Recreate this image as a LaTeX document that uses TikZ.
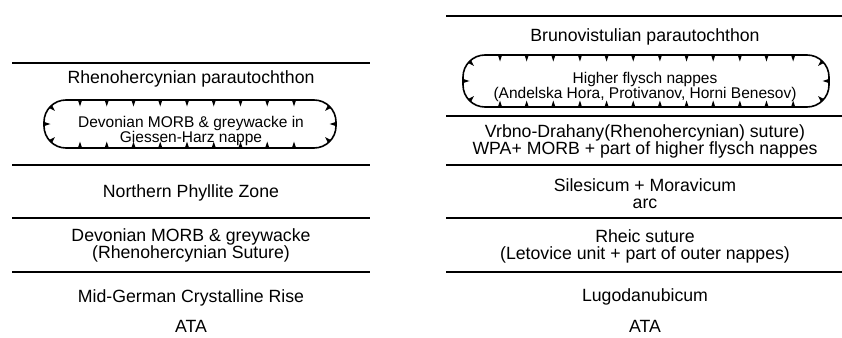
\documentclass[tikz,border=0pt]{standalone}
\usepackage{fontspec}
\setmainfont{Liberation Sans}
\begin{document}
\begin{tikzpicture}[x=1pt,y=-1pt,
  sep/.style={line width=2.6pt},
  nappebox/.style={line width=1.6pt, rounded corners=22pt},
  lbl/.style={font=\fontsize{17.7}{15.7}\selectfont, anchor=base, inner sep=0pt},
  lbl2/.style={font=\fontsize{17.7}{17}\selectfont, align=center, anchor=north, inner sep=0pt},
  blbl2/.style={font=\fontsize{15.5}{13.8}\selectfont, align=center, anchor=north, inner sep=0pt},
  tooth/.style={fill=black}
]
\useasboundingbox (0,0) rectangle (842,337);
\newcommand{\tooth}[3]{\fill[tooth,shift={(#1,#2)},rotate=#3] (-2.1,0) -- (2.1,0) -- (0,6.5) -- cycle;}

% ---------- left column ----------
\coordinate (L1a) at (12,63); \coordinate (L1b) at (370,63);
\coordinate (L2a) at (12,165); \coordinate (L2b) at (370,165);
\coordinate (L3a) at (12,218); \coordinate (L3b) at (370,218);
\coordinate (L4a) at (12,272); \coordinate (L4b) at (370,272);
\draw[sep] (L1a) -- (L1b);
\draw[sep] (L2a) -- (L2b);
\draw[sep] (L3a) -- (L3b);
\draw[sep] (L4a) -- (L4b);

\node[lbl] (rp) at (191,83) {Rhenohercynian parautochthon};
\draw[nappebox] (44,100) rectangle (336,148);
\node[blbl2] (gh) at (191,115.9) {Devonian MORB \& greywacke in\\Giessen-Harz nappe};
\foreach \k in {0,...,8} {
  \tooth{80+26.75*\k}{100}{0}
  \tooth{80+26.75*\k}{148}{180}
}
\tooth{50.4}{106.4}{45}
\tooth{44}{124}{90}
\tooth{50.4}{141.6}{135}
\tooth{329.6}{106.4}{-45}
\tooth{336}{124}{-90}
\tooth{329.6}{141.6}{-135}

\node[lbl] (npz) at (191,197) {Northern Phyllite Zone};
\node[lbl2] (dm) at (191,228.1) {Devonian MORB \& greywacke\\(Rhenohercynian Suture)};
\node[lbl] (mgc) at (191,302.3) {Mid-German Crystalline Rise};
\node[lbl] (ataL) at (191,332.5) {ATA};

% ---------- right column ----------
\coordinate (R1a) at (446,16); \coordinate (R1b) at (842,16);
\coordinate (R2a) at (446,116); \coordinate (R2b) at (842,116);
\coordinate (R3a) at (446,165); \coordinate (R3b) at (842,165);
\coordinate (R4a) at (446,218); \coordinate (R4b) at (842,218);
\coordinate (R5a) at (446,272); \coordinate (R5b) at (842,272);
\draw[sep] (R1a) -- (R1b);
\draw[sep] (R2a) -- (R2b);
\draw[sep] (R3a) -- (R3b);
\draw[sep] (R4a) -- (R4b);
\draw[sep] (R5a) -- (R5b);

\node[lbl] (bp) at (645,41.7) {Brunovistulian parautochthon};
\draw[nappebox] (463,55) rectangle (829,107);
\node[blbl2] (hf) at (645,72) {Higher flysch nappes\\(Andelska Hora, Protivanov, Horni Benesov)};
\foreach \k in {0,...,11} {
  \tooth{500+26.65*\k}{55}{0}
  \tooth{500+26.65*\k}{107}{180}
}
\tooth{469.4}{61.4}{45}
\tooth{463}{81}{90}
\tooth{469.4}{100.6}{135}
\tooth{822.6}{61.4}{-45}
\tooth{829}{81}{-90}
\tooth{822.6}{100.6}{-135}

\node[lbl2] (vd) at (645,124.7) {Vrbno-Drahany(Rhenohercynian) suture)\\WPA+ MORB + part of higher flysch nappes};
\node[lbl2] (sm) at (645,178.1) {Silesicum + Moravicum\\arc};
\node[lbl2] (rs) at (645,229.1) {Rheic suture\\(Letovice unit + part of outer nappes)};
\node[lbl] (lug) at (645,301.7) {Lugodanubicum};
\node[lbl] (ataR) at (645,332.5) {ATA};
\end{tikzpicture}
\end{document}
